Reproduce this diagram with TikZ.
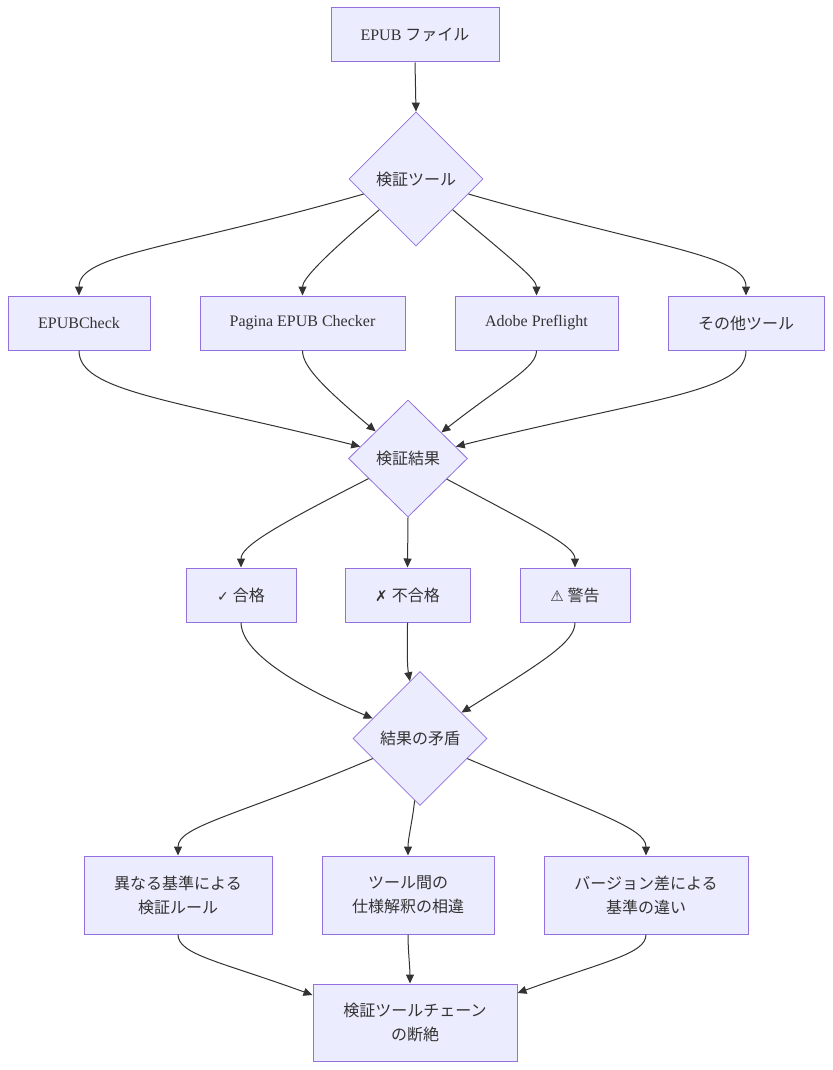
\documentclass[tikz,border=0pt]{standalone}
\usepackage{fontspec}
\setmainfont{Liberation Serif}
\newfontfamily\cjk{Noto Sans CJK JP}
\newfontfamily\sym{DejaVu Sans}
\usetikzlibrary{shapes.geometric,arrows.meta,positioning}
\definecolor{boxfill}{HTML}{ECECFF}
\definecolor{boxline}{HTML}{9370DB}
\definecolor{txt}{HTML}{333333}
\begin{document}
\begin{tikzpicture}[x=1pt,y=-1pt,
  every node/.style={text=txt,font=\fontsize{16}{24}\selectfont},
  box/.style={draw=boxline,fill=boxfill,line width=1pt,rectangle,inner sep=0pt,align=center},
  dia/.style={draw=boxline,fill=boxfill,line width=0.8pt,diamond,inner sep=0pt,aspect=1},
  edge/.style={draw=txt,line width=1pt,-{Triangle[length=9pt,width=8pt]}},
  down/.style={out looseness=1.7,in looseness=0.35},
  up/.style={out looseness=0.35,in looseness=1.7}]
\useasboundingbox (0,0) rectangle (832,1070);
% nodes
\node[box,minimum width=168pt,minimum height=54pt] (epub) at (415,35) {EPUB {\cjk ファイル}};
\node[dia,minimum width=134pt,minimum height=134pt] (tool) at (416,179) {\cjk 検証ツール};
\node[box,minimum width=142pt,minimum height=54pt] (ec) at (79,323) {EPUBCheck};
\node[box,minimum width=205pt,minimum height=54pt] (pg) at (302.5,323) {Pagina EPUB Checker};
\node[box,minimum width=163pt,minimum height=54pt] (ap) at (536.5,323) {Adobe Preflight};
\node[box,minimum width=156pt,minimum height=54pt] (ot) at (746,323) {\cjk その他ツール};
\node[dia,minimum width=119pt,minimum height=117pt] (res) at (408,458.5) {\cjk 検証結果};
\node[box,minimum width=110pt,minimum height=54pt] (ok) at (241,595) {{\sym\fontsize{14}{16}\selectfont ✓} {\cjk 合格}};
\node[box,minimum width=125pt,minimum height=54pt] (ng) at (407.5,595) {{\sym\fontsize{15}{16}\selectfont ✗} {\cjk 不合格}};
\node[box,minimum width=110pt,minimum height=54pt] (wa) at (575,595) {{\sym\fontsize{15}{16}\selectfont ⚠} {\cjk 警告}};
\node[dia,minimum width=134pt,minimum height=134pt] (con) at (420,738.5) {\cjk 結果の矛盾};
\node[box,minimum width=188pt,minimum height=78pt] (r1) at (178,895) {\cjk 異なる基準による\\\cjk 検証ルール};
\node[box,minimum width=172pt,minimum height=78pt] (r2) at (408,895) {\cjk ツール間の\\\cjk 仕様解釈の相違};
\node[box,minimum width=204pt,minimum height=78pt] (r3) at (646,895) {\cjk バージョン差による\\\cjk 基準の違い};
\node[box,minimum width=204pt,minimum height=77pt] (fin) at (415,1022.5) {\cjk 検証ツールチェーン\\\cjk の断絶};
% edges
\draw[edge] (epub.south) -- (tool.north);
\draw[edge] (tool) to[out=196,in=90,down] (ec.north);
\draw[edge] (tool) to[out=220,in=90,down] (pg.north);
\draw[edge] (tool) to[out=-40,in=90,down] (ap.north);
\draw[edge] (tool) to[out=-16,in=90,down] (ot.north);
\draw[edge] (ec.south) to[out=-90,in=166,up] (res);
\draw[edge] (pg.south) to[out=-90,in=140,up] (res);
\draw[edge] (ap.south) to[out=-90,in=38,up] (res);
\draw[edge] (ot.south) to[out=-90,in=14,up] (res);
\draw[edge] (res) to[out=207,in=90,down] (ok.north);
\draw[edge] (res.south) -- (ng.north);
\draw[edge] (res) to[out=-28,in=90,down] (wa.north);
\draw[edge] (ok.south) to[out=-90,in=157,up] (con);
\draw[edge] (ng.south) to[out=-90,in=100,looseness=0.8] (con);
\draw[edge] (wa.south) to[out=-90,in=32,up] (con);
\draw[edge] (con) to[out=203,in=90,down] (r1.north);
\draw[edge] (con) to[out=265,in=90,looseness=0.8] (r2.north);
\draw[edge] (con) to[out=-23,in=90,down] (r3.north);
\draw[edge] (r1.south) to[out=-90,in=160,up] ([yshift=27.5pt]fin.west);
\draw[edge] (r2.south) to[out=-90,in=90,looseness=0.8] ([xshift=-5pt]fin.north);
\draw[edge] (r3.south) to[out=-90,in=20,up] ([yshift=29.5pt]fin.east);
\end{tikzpicture}
\end{document}
